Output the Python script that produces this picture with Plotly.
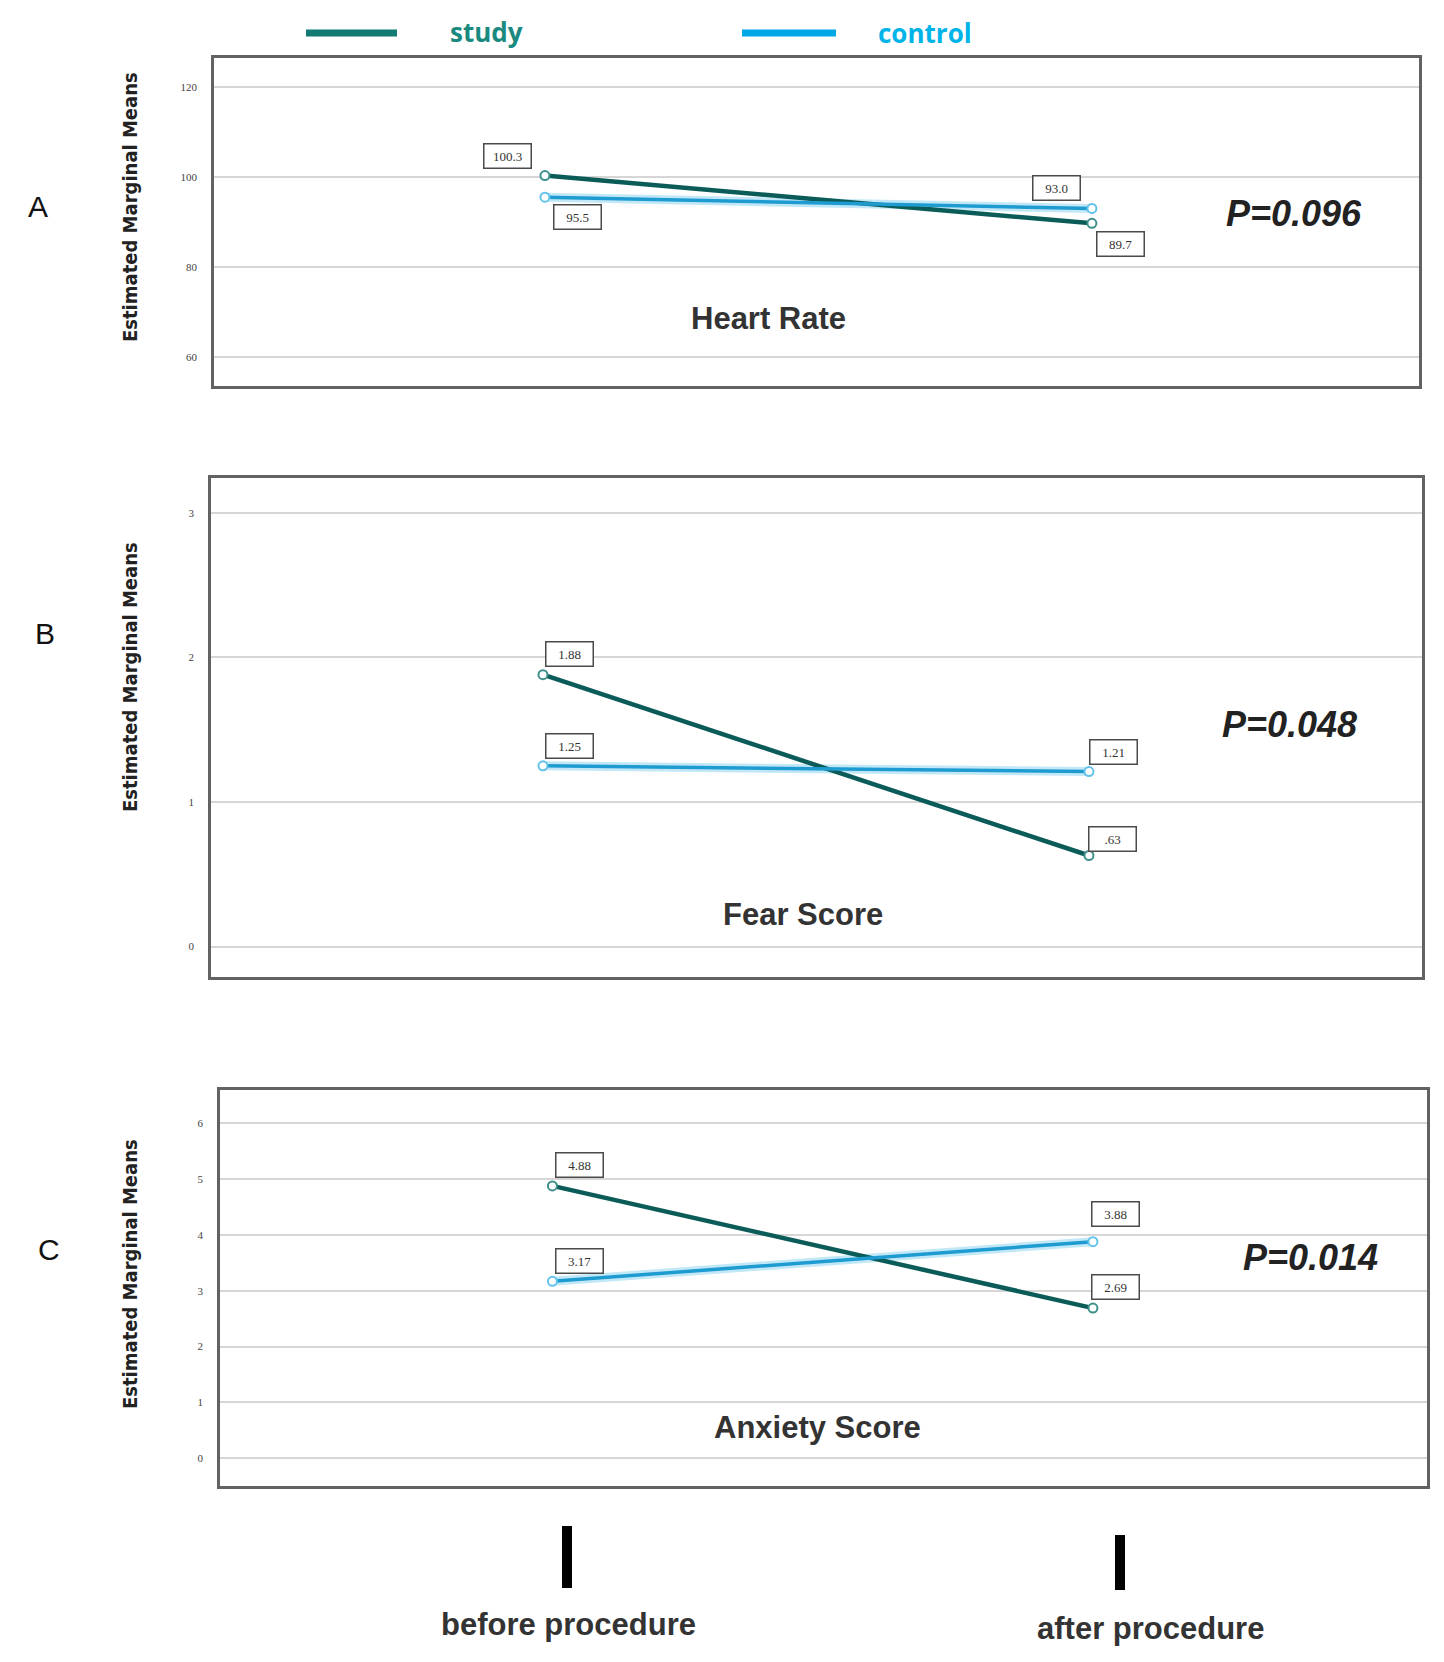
import plotly.graph_objects as go

# ---------------- data ----------------
phases = ["before procedure", "after procedure"]
phase_x = [0, 1]

hr_study = [100.3, 89.7]
hr_control = [95.5, 93.0]
fear_study = [1.88, 0.63]
fear_control = [1.25, 1.21]
anx_study = [4.88, 2.69]
anx_control = [3.17, 3.88]

hr_study_lbl = ["100.3", "89.7"]
hr_control_lbl = ["95.5", "93.0"]
fear_study_lbl = ["1.88", ".63"]
fear_control_lbl = ["1.25", "1.21"]
anx_study_lbl = ["4.88", "2.69"]
anx_control_lbl = ["3.17", "3.88"]

panel_titles = ["Heart Rate", "Fear Score", "Anxiety Score"]
panel_letters = ["A", "B", "C"]
p_values = ["P=0.096", "P=0.048", "P=0.014"]
hr_ticks = [60, 80, 100, 120]
fear_ticks = [0, 1, 2, 3]
anx_ticks = [0, 1, 2, 3, 4, 5, 6]
series_names = ["study", "control"]

# ---------------- styling ----------------
PAGE_W, PAGE_H = 1444, 1662
W, H = PAGE_W - 16, PAGE_H - 16   # leave room for the default body margin
OX, OY = 5, 6                     # page offset correction
STUDY = "#0b5c58"
STUDY_MK = "#3f8f8b"
CONTROL = "#1e9bd0"
CONTROL_MK = "#62c3ea"
GLOW = "rgba(120,205,240,0.45)"
SERIF = "Liberation Serif, DejaVu Serif, serif"
SANS = "Liberation Sans, Arial, sans-serif"
NARROW = "Liberation Sans Narrow, DejaVu Sans Condensed, Liberation Sans, sans-serif"


def px_to_paper_x(px):
    return (px - OX) / W


def px_to_paper_y(py):
    return 1 - (py - OY) / H


def paper_text(x, y, text, font, **kw):
    d = dict(x=px_to_paper_x(x), y=px_to_paper_y(y), xref="paper", yref="paper",
             text=text, showarrow=False, xanchor="center", yanchor="middle", font=font)
    d.update(kw)
    return d


panels = [
    dict(xd=(211, 1416), yd=(56, 384), yr=[53.6, 126.4], xr=[-0.605, 1.598],
         study=hr_study, control=hr_control, slbl=hr_study_lbl, clbl=hr_control_lbl,
         ticks=hr_ticks,
         soff=[(-37, 20), (29, -21)], coff=[(33, -20), (-35, 20)],
         title_xy=(765, 316), p_xy=(1291, 211), letter_xy=(35, 204), ylab_y=205),
    dict(xd=(208, 1419), yd=(476, 975), yr=[-0.21, 3.24], xr=[-0.608, 1.610],
         study=fear_study, control=fear_control, slbl=fear_study_lbl, clbl=fear_control_lbl,
         ticks=fear_ticks,
         soff=[(27, 21), (24, 17)], coff=[(27, 20), (25, 20)],
         title_xy=(800, 912), p_xy=(1286, 722), letter_xy=(42, 631), ylab_y=675),
    dict(xd=(217, 1424), yd=(1088, 1484), yr=[-0.5, 6.6], xr=[-0.615, 1.618],
         study=anx_study, control=anx_control, slbl=anx_study_lbl, clbl=anx_control_lbl,
         ticks=anx_ticks,
         soff=[(27, 21), (23, 21)], coff=[(27, 20), (23, 28)],
         title_xy=(814, 1425), p_xy=(1307, 1255), letter_xy=(46, 1247), ylab_y=1272),
]

fig = go.Figure()
annotations = []
shapes = []

for i, p in enumerate(panels):
    n = "" if i == 0 else str(i + 1)
    xa, ya = "x" + n, "y" + n
    fig.add_trace(go.Scatter(x=phase_x, y=p["control"], mode="lines", xaxis=xa, yaxis=ya,
                             line=dict(color=GLOW, width=9), hoverinfo="skip", showlegend=False))
    fig.add_trace(go.Scatter(x=phase_x, y=p["study"], mode="lines+markers", xaxis=xa, yaxis=ya,
                             name=series_names[0], showlegend=False,
                             line=dict(color=STUDY, width=4.5),
                             marker=dict(symbol="circle", size=9, color="white",
                                         line=dict(color=STUDY_MK, width=2))))
    fig.add_trace(go.Scatter(x=phase_x, y=p["control"], mode="lines+markers", xaxis=xa, yaxis=ya,
                             name=series_names[1], showlegend=False,
                             line=dict(color=CONTROL, width=3.5),
                             marker=dict(symbol="circle", size=9, color="white",
                                         line=dict(color=CONTROL_MK, width=2))))

    common_axis = dict(showline=True, mirror=True, linecolor="#626262", linewidth=2.5,
                       zeroline=False, fixedrange=True)
    fig.update_layout(**{
        "xaxis" + n: dict(domain=[px_to_paper_x(p["xd"][0]), px_to_paper_x(p["xd"][1])],
                          range=p["xr"], showgrid=False, showticklabels=False,
                          anchor=ya, **common_axis),
        "yaxis" + n: dict(domain=[px_to_paper_y(p["yd"][1]), px_to_paper_y(p["yd"][0])],
                          range=p["yr"], tickvals=p["ticks"], showgrid=True,
                          gridcolor="#d6d6d6", gridwidth=2, anchor=xa,
                          ticklabelstandoff=12,
                          tickfont=dict(family=SERIF, size=11, color="#444"),
                          **common_axis),
    })

    for j in range(2):
        for vals, lbls, offs in ((p["study"], p["slbl"], p["soff"]),
                                 (p["control"], p["clbl"], p["coff"])):
            annotations.append(dict(x=phase_x[j], y=vals[j], xref=xa, yref=ya,
                                    text=lbls[j], showarrow=False,
                                    xanchor="center", yanchor="middle",
                                    xshift=offs[j][0], yshift=offs[j][1],
                                    width=40, height=17,
                                    font=dict(family=SERIF, size=13, color="#333"),
                                    bgcolor="white", bordercolor="#4a4a4a", borderwidth=1.5,
                                    borderpad=3))

    annotations.append(paper_text(p["title_xy"][0], p["title_xy"][1],
                                  "<b>%s</b>" % panel_titles[i],
                                  dict(family=SANS, size=31, color="#333")))
    annotations.append(paper_text(p["p_xy"][0], p["p_xy"][1],
                                  "<b><i>%s</i></b>" % p_values[i],
                                  dict(family=SANS, size=36, color="#222")))
    annotations.append(paper_text(p["letter_xy"][0], p["letter_xy"][1], panel_letters[i],
                                  dict(family=SANS, size=30, color="#111")))
    annotations.append(paper_text(127, p["ylab_y"], "<b>Estimated Marginal Means</b>",
                                  dict(family=NARROW, size=20, color="#222"), textangle=-90))

# ---------------- legend (top) ----------------
shapes.append(dict(type="line", xref="paper", yref="paper",
                   x0=px_to_paper_x(303), x1=px_to_paper_x(394),
                   y0=px_to_paper_y(31), y1=px_to_paper_y(31),
                   line=dict(color="#127a72", width=7)))
shapes.append(dict(type="line", xref="paper", yref="paper",
                   x0=px_to_paper_x(739), x1=px_to_paper_x(833),
                   y0=px_to_paper_y(31), y1=px_to_paper_y(31),
                   line=dict(color="#00a8e6", width=7)))
annotations.append(paper_text(484, 30, "<b>%s</b>" % series_names[0],
                              dict(family="Open Sans, sans-serif", size=26, color="#1a8a80")))
annotations.append(paper_text(922, 31, "<b>%s</b>" % series_names[1],
                              dict(family="Open Sans, sans-serif", size=26, color="#00b4e8")))

# ---------------- bottom phase markers ----------------
bars = [(564, 1524, 1586, 1622), (1117, 1533, 1588, 1626)]
label_x = [565, 1147]
for k, (bx, by0, by1, ty) in enumerate(bars):
    shapes.append(dict(type="line", xref="paper", yref="paper",
                       x0=px_to_paper_x(bx), x1=px_to_paper_x(bx),
                       y0=px_to_paper_y(by0), y1=px_to_paper_y(by1),
                       line=dict(color="#000", width=10)))
    annotations.append(paper_text(label_x[k], ty, "<b>%s</b>" % phases[k],
                                  dict(family=SANS, size=31, color="#333")))

fig.update_layout(width=W, height=H, margin=dict(l=0, r=0, t=0, b=0),
                  paper_bgcolor="white", plot_bgcolor="white",
                  showlegend=False, annotations=annotations, shapes=shapes)

fig.write_html("out.html")
